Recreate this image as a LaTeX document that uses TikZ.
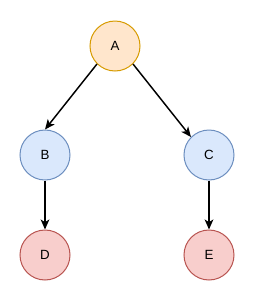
\documentclass[tikz,border=0pt]{standalone}
\usepackage{fontspec}
\setmainfont{Liberation Sans}
\usetikzlibrary{arrows.meta}
\definecolor{aFill}{HTML}{FFE6CC}\definecolor{aLine}{HTML}{D79B00}
\definecolor{bFill}{HTML}{DAE8FC}\definecolor{bLine}{HTML}{6C8EBF}
\definecolor{dFill}{HTML}{F8CECC}\definecolor{dLine}{HTML}{B85450}
\tikzset{
  vert/.style={circle, minimum size=37.5pt, inner sep=0pt, line width=0.75pt, font=\fontsize{10}{11}\selectfont},
  orangev/.style={vert, draw=aLine, fill=aFill},
  bluev/.style={vert, draw=bLine, fill=bFill},
  redv/.style={vert, draw=dLine, fill=dFill},
  edge/.style={line width=1.1pt, -{Stealth[length=7.5pt, width=6.5pt, inset=2pt]}}
}
\begin{document}
\begin{tikzpicture}[x=0.75pt,y=-0.75pt]
\useasboundingbox (0,0) rectangle (255,301);
\node[orangev] (A) at (115,46) {A};
\node[bluev] (B) at (45,155) {B};
\node[bluev] (C) at (209,155) {C};
\node[redv] (D) at (45,255) {D};
\node[redv] (E) at (209,255) {E};
\draw[edge] (A.south west) -- (B.north);
\draw[edge] (A.south east) -- (C.north west);
\draw[edge] (B) -- (D);
\draw[edge] (C) -- (E);
\end{tikzpicture}
\end{document}
